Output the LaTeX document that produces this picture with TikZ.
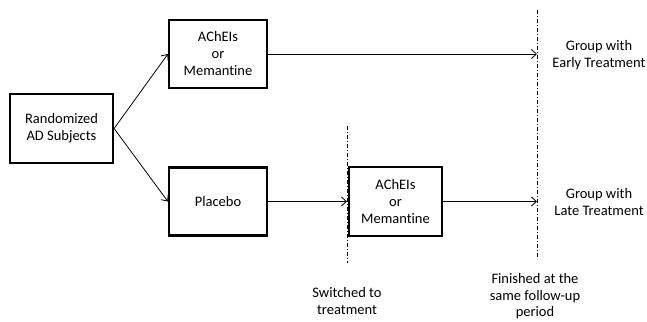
\documentclass[tikz,border=0pt]{standalone}
\usepackage{fontspec}
\setmainfont{Carlito}[Ligatures=NoCommon]
\usetikzlibrary{arrows.meta}
\begin{document}
\begin{tikzpicture}[x=1pt,y=-1pt,
  txt/.style={font=\fontsize{14.5}{17}\selectfont},
  box/.style={txt,draw,line width=2.2pt,minimum width=98pt,minimum height=68pt,align=center,inner sep=2pt},
  lbl/.style={txt,align=center,inner sep=0pt},
  conn/.style={line width=0.8pt,-{Straight Barb[length=5pt,width=9pt]}},
  mark line/.style={line width=0.7pt,dash pattern=on 4pt off 2pt on 1pt off 2pt}]
  \useasboundingbox (0,0) rectangle (647,321);
  % boxes
  \node[box,minimum width=103pt,minimum height=69pt] (rand) at (61.5,128.5) {Randomized\\AD Subjects};
  \node[box] (early) at (218,54) {AChEIs\\or\\Memantine};
  \node[box] (plac) at (218,201.5) {Placebo};
  \node[box,minimum width=93pt,minimum height=69pt] (late) at (395.5,201.5) {AChEIs\\or\\Memantine};
  % time marks
  \coordinate (sw top) at (347,126);
  \coordinate (sw bot) at (347,263);
  \coordinate (fin top) at (537,10);
  \coordinate (fin bot) at (537,258);
  \draw[mark line] (sw top) -- (sw bot);
  \draw[mark line] (fin top) -- (fin bot);
  \coordinate (early end) at (537,54);
  \coordinate (late end) at (537,201.5);
  \coordinate (sw mid) at (347,201.5);
  % connectors
  \draw[conn] (rand.east) -- (early.west);
  \draw[conn] (rand.east) -- (plac.west);
  \draw[conn] (early.east) -- (early end);
  \draw[conn] (plac.east) -- (sw mid);
  \draw[conn] (late.east) -- (late end);
  % labels
  \node[lbl] (g1) at (599,55) {Group with\\Early Treatment};
  \node[lbl] (g2) at (599,202.5) {Group with\\Late Treatment};
  \node[lbl] (swl) at (347,301.5) {Switched to\\treatment};
  \node[lbl,font=\fontsize{14.5}{16.5}\selectfont] (finl) at (535,296.5) {Finished at the\\same follow-up\\period};
\end{tikzpicture}
\end{document}
